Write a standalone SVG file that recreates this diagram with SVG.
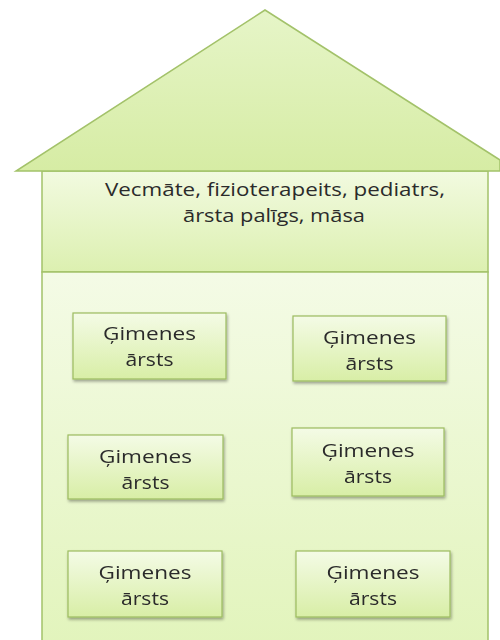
<svg xmlns="http://www.w3.org/2000/svg" width="500" height="640" viewBox="0 0 500 640">
<defs>
<linearGradient id="roofG" x1="0" y1="0" x2="0" y2="1">
<stop offset="0" stop-color="#e6f5c8"/>
<stop offset="1" stop-color="#d6eca4"/>
</linearGradient>
<linearGradient id="topG" x1="0" y1="0" x2="0" y2="1">
<stop offset="0" stop-color="#f2fae0"/>
<stop offset="1" stop-color="#dcf0b0"/>
</linearGradient>
<linearGradient id="botG" x1="0" y1="0" x2="0" y2="1">
<stop offset="0" stop-color="#f4fbe6"/>
<stop offset="1" stop-color="#e2f4bc"/>
</linearGradient>
<linearGradient id="boxG" x1="0" y1="0" x2="0" y2="1">
<stop offset="0" stop-color="#f4fbe6"/>
<stop offset="1" stop-color="#d8eea6"/>
</linearGradient>
<filter id="sh" x="-10%" y="-10%" width="125%" height="130%">
<feGaussianBlur in="SourceAlpha" stdDeviation="1.5"/>
<feOffset dx="1" dy="2" result="b"/>
<feComponentTransfer><feFuncA type="linear" slope="0.35"/></feComponentTransfer>
<feMerge><feMergeNode/><feMergeNode in="SourceGraphic"/></feMerge>
</filter>
</defs>
<style>
.edge{stroke:#a3c26a;stroke-width:1.5}
.box{fill:url(#boxG);stroke:#9cbb5f;stroke-width:1.2}
text{font-family:"Open Sans","Liberation Sans",sans-serif;fill:#2b2b2b;text-anchor:middle;font-size:19px}
</style>
<rect width="500" height="640" fill="#ffffff"/>
<g id="house">
<rect x="42" y="171" width="446" height="101" fill="url(#topG)" class="edge"/>
<rect x="42" y="272" width="446" height="372" fill="url(#botG)" class="edge"/>
<polygon points="265,10 16,171 500,171 500,160" fill="url(#roofG)" class="edge"/>
</g>
<g id="staff">
<text x="275" y="196" textLength="340" lengthAdjust="spacingAndGlyphs">Vecmāte, fizioterapeits, pediatrs,</text>
<text x="274" y="222" textLength="182" lengthAdjust="spacingAndGlyphs">ārsta palīgs, māsa</text>
</g>
<g id="connectors"></g>
<g id="doc1" filter="url(#sh)">
<rect class="box" x="73" y="313" width="153" height="66"/>
<text x="149.5" y="340" textLength="93" lengthAdjust="spacingAndGlyphs">Ģimenes</text>
<text x="149.5" y="366" textLength="48" lengthAdjust="spacingAndGlyphs">ārsts</text>
</g>
<g id="doc2" filter="url(#sh)">
<rect class="box" x="293" y="316" width="153" height="65"/>
<text x="369.5" y="344" textLength="93" lengthAdjust="spacingAndGlyphs">Ģimenes</text>
<text x="369.5" y="370" textLength="48" lengthAdjust="spacingAndGlyphs">ārsts</text>
</g>
<g id="doc3" filter="url(#sh)">
<rect class="box" x="68" y="435" width="155" height="64"/>
<text x="145.5" y="463" textLength="93" lengthAdjust="spacingAndGlyphs">Ģimenes</text>
<text x="145.5" y="489" textLength="48" lengthAdjust="spacingAndGlyphs">ārsts</text>
</g>
<g id="doc4" filter="url(#sh)">
<rect class="box" x="292" y="428" width="152" height="68"/>
<text x="368" y="457" textLength="93" lengthAdjust="spacingAndGlyphs">Ģimenes</text>
<text x="368" y="483" textLength="48" lengthAdjust="spacingAndGlyphs">ārsts</text>
</g>
<g id="doc5" filter="url(#sh)">
<rect class="box" x="68" y="551" width="154" height="66"/>
<text x="145" y="579" textLength="93" lengthAdjust="spacingAndGlyphs">Ģimenes</text>
<text x="145" y="605" textLength="48" lengthAdjust="spacingAndGlyphs">ārsts</text>
</g>
<g id="doc6" filter="url(#sh)">
<rect class="box" x="296" y="551" width="154" height="66"/>
<text x="373" y="579" textLength="93" lengthAdjust="spacingAndGlyphs">Ģimenes</text>
<text x="373" y="605" textLength="48" lengthAdjust="spacingAndGlyphs">ārsts</text>
</g>
</svg>
